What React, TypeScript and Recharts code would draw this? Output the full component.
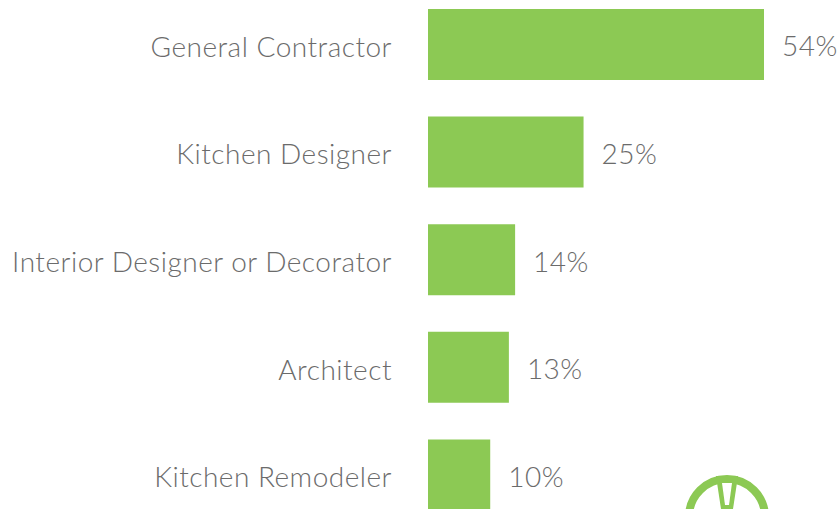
import { BarChart, Bar, XAxis, YAxis, LabelList } from "recharts";

// Professional hired for the kitchen project, share of respondents
const professions = [
  "General Contractor",
  "Kitchen Designer",
  "Interior Designer or Decorator",
  "Architect",
  "Kitchen Remodeler",
];
const shares = [54, 25, 14, 13, 10];

const chartData = professions.map((name, i) => ({ name, share: shares[i] }));

const GREEN = "#8cc954";
const TEXT = "#6b6b6b";
const FONT = { fill: TEXT, fontSize: 28, fontFamily: "Lato", fontWeight: 300, letterSpacing: 0.5 };

export default function App() {
  return (
    <div style={{ position: "absolute", top: 0, left: 0, width: 839, height: 509, overflow: "hidden", background: "#fff" }}>
      <div style={{ position: "absolute", top: -9, left: 0 }}>
        <BarChart
          layout="vertical"
          width={839}
          height={538}
          data={chartData}
          margin={{ top: 0, right: 75, bottom: 0, left: 0 }}
        >
          <XAxis type="number" domain={[0, 54]} hide />
          <YAxis
            type="category"
            dataKey="name"
            width={428}
            axisLine={false}
            tickLine={false}
            tickSize={0}
            tickMargin={36}
            tick={{ ...FONT, dy: 2 }}
          />
          <Bar dataKey="share" fill={GREEN} barSize={71} isAnimationActive={false}>
            <LabelList
              dataKey="share"
              position="right"
              offset={18}
              dy={2}
              formatter={(v: any) => `${v}%`}
              style={FONT}
            />
          </Bar>
        </BarChart>
      </div>
      {/* partial logo in the bottom-right corner */}
      <svg width={839} height={509} style={{ position: "absolute", top: 0, left: 0, pointerEvents: "none" }}>
        <circle cx={727} cy={517} r={38} fill="none" stroke={GREEN} strokeWidth={8} />
        <path d="M716 476 L738 476 L733 509 L721 509 Z" fill={GREEN} />
        <path d="M722 483 L732 483 L729 505 L725 505 Z" fill="#fff" />
      </svg>
    </div>
  );
}
